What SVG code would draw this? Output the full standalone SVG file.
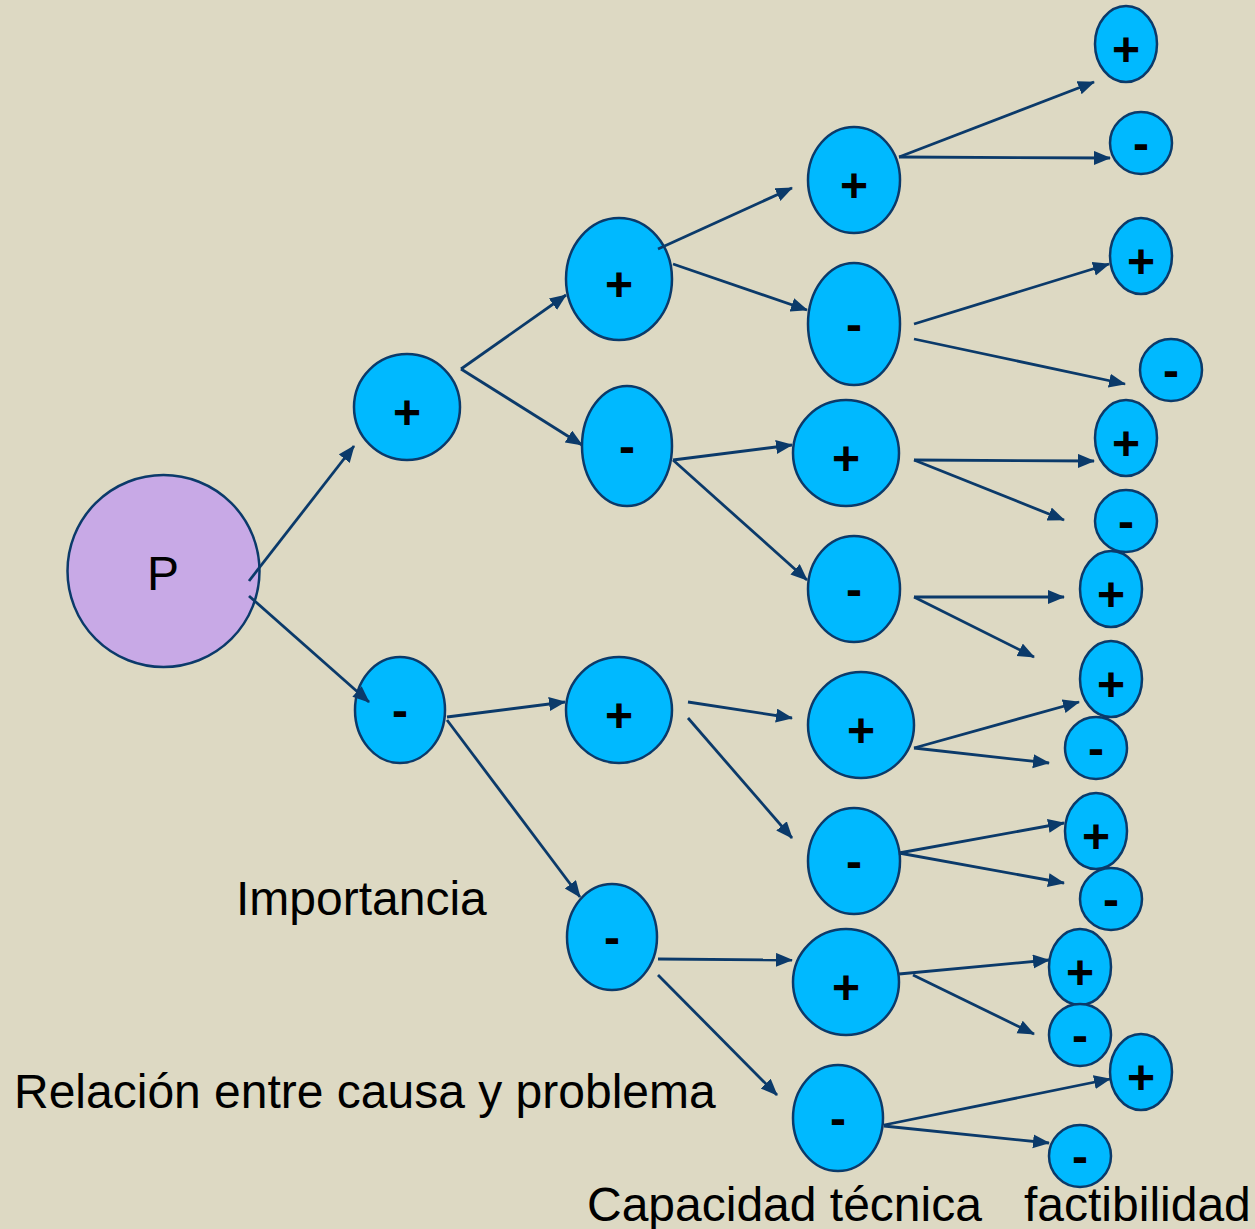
<svg xmlns="http://www.w3.org/2000/svg" width="1255" height="1229" viewBox="0 0 1255 1229">
<defs>
<style>
.n{fill:#00B9FF;stroke:#0B3A6A;stroke-width:2.5}
.p{fill:#C8A9E6;stroke:#0B3A6A;stroke-width:2.5}
.t{font-family:"Liberation Sans",Arial,sans-serif;font-size:48px;font-weight:bold;fill:#000;text-anchor:middle}
.lbl{font-family:"Liberation Sans",Arial,sans-serif;font-size:48px;fill:#000}
.c line{stroke:#0B3A6A;stroke-width:2.8;marker-end:url(#a)}
</style>
<marker id="a" markerUnits="userSpaceOnUse" markerWidth="19" markerHeight="15" refX="16" refY="7" orient="auto">
<path d="M0,0 L17,7 L0,14 z" fill="#0B3A6A"/>
</marker>
</defs>
<rect width="1255" height="1229" fill="#DDD9C3"/>
<g id="P"><circle class="p" cx="163.5" cy="571" r="96"/><text x="163" y="590" style="font-family:'Liberation Sans',Arial,sans-serif;font-size:48px;text-anchor:middle">P</text></g>
<g id="n1p"><ellipse class="n" cx="407" cy="407" rx="53" ry="53"/><text class="t" x="407" y="429">+</text></g>
<g id="n1m"><ellipse class="n" cx="400" cy="710" rx="45" ry="53"/><text class="t" x="400" y="727">-</text></g>
<g id="n2a"><ellipse class="n" cx="619" cy="279" rx="53" ry="61"/><text class="t" x="619" y="301">+</text></g>
<g id="n2b"><ellipse class="n" cx="627" cy="446" rx="45" ry="60"/><text class="t" x="627" y="463">-</text></g>
<g id="n2c"><ellipse class="n" cx="619" cy="710" rx="53" ry="53"/><text class="t" x="619" y="732">+</text></g>
<g id="n2d"><ellipse class="n" cx="612" cy="937" rx="45" ry="53"/><text class="t" x="612" y="954">-</text></g>
<g id="n3a"><ellipse class="n" cx="854" cy="180" rx="46" ry="53"/><text class="t" x="854" y="202">+</text></g>
<g id="n3b"><ellipse class="n" cx="854" cy="324" rx="46" ry="61"/><text class="t" x="854" y="341">-</text></g>
<g id="n3c"><ellipse class="n" cx="846" cy="453" rx="53" ry="53"/><text class="t" x="846" y="475">+</text></g>
<g id="n3d"><ellipse class="n" cx="854" cy="589" rx="46" ry="53"/><text class="t" x="854" y="606">-</text></g>
<g id="n3e"><ellipse class="n" cx="861" cy="725" rx="53" ry="53"/><text class="t" x="861" y="747">+</text></g>
<g id="n3f"><ellipse class="n" cx="854" cy="861" rx="46" ry="53"/><text class="t" x="854" y="878">-</text></g>
<g id="n3g"><ellipse class="n" cx="846" cy="982" rx="53" ry="53"/><text class="t" x="846" y="1004">+</text></g>
<g id="n3h"><ellipse class="n" cx="838" cy="1118" rx="45" ry="53"/><text class="t" x="838" y="1135">-</text></g>
<g id="l1"><ellipse class="n" cx="1126" cy="44" rx="31" ry="38"/><text class="t" x="1126" y="66">+</text></g>
<g id="l2"><ellipse class="n" cx="1141" cy="143" rx="31" ry="31"/><text class="t" x="1141" y="160">-</text></g>
<g id="l3"><ellipse class="n" cx="1141" cy="256" rx="31" ry="38"/><text class="t" x="1141" y="278">+</text></g>
<g id="l4"><ellipse class="n" cx="1171" cy="370" rx="31" ry="31"/><text class="t" x="1171" y="387">-</text></g>
<g id="l5"><ellipse class="n" cx="1126" cy="438" rx="31" ry="38"/><text class="t" x="1126" y="460">+</text></g>
<g id="l6"><ellipse class="n" cx="1126" cy="521" rx="31" ry="31"/><text class="t" x="1126" y="538">-</text></g>
<g id="l7"><ellipse class="n" cx="1111" cy="589" rx="31" ry="38"/><text class="t" x="1111" y="611">+</text></g>
<g id="l8"><ellipse class="n" cx="1111" cy="679" rx="31" ry="38"/><text class="t" x="1111" y="701">+</text></g>
<g id="l9"><ellipse class="n" cx="1096" cy="748" rx="31" ry="31"/><text class="t" x="1096" y="765">-</text></g>
<g id="l10"><ellipse class="n" cx="1096" cy="831" rx="31" ry="38"/><text class="t" x="1096" y="853">+</text></g>
<g id="l11"><ellipse class="n" cx="1111" cy="899" rx="31" ry="31"/><text class="t" x="1111" y="916">-</text></g>
<g id="l12"><ellipse class="n" cx="1080" cy="967" rx="31" ry="38"/><text class="t" x="1080" y="989">+</text></g>
<g id="l13"><ellipse class="n" cx="1080" cy="1035" rx="31" ry="31"/><text class="t" x="1080" y="1052">-</text></g>
<g id="l14"><ellipse class="n" cx="1141" cy="1072" rx="31" ry="38"/><text class="t" x="1141" y="1094">+</text></g>
<g id="l15"><ellipse class="n" cx="1080" cy="1156" rx="31" ry="31"/><text class="t" x="1080" y="1173">-</text></g>
<g id="connectors" class="c">
<line x1="249" y1="581" x2="354" y2="446"/>
<line x1="249" y1="596" x2="369" y2="702"/>
<line x1="461" y1="369" x2="566" y2="295"/>
<line x1="461" y1="369" x2="582" y2="445"/>
<line x1="658" y1="249" x2="792" y2="188"/>
<line x1="673" y1="264" x2="807" y2="310"/>
<line x1="673" y1="460" x2="792" y2="445"/>
<line x1="673" y1="460" x2="807" y2="580"/>
<line x1="447" y1="717" x2="565" y2="702"/>
<line x1="447" y1="720" x2="580" y2="897"/>
<line x1="688" y1="702" x2="792" y2="718"/>
<line x1="688" y1="718" x2="792" y2="838"/>
<line x1="658" y1="959" x2="792" y2="960"/>
<line x1="658" y1="975" x2="777" y2="1095"/>
<line x1="899" y1="157" x2="1094" y2="82"/>
<line x1="899" y1="157" x2="1110" y2="158"/>
<line x1="914" y1="324" x2="1109" y2="264"/>
<line x1="914" y1="339" x2="1125" y2="384"/>
<line x1="914" y1="460" x2="1094" y2="461"/>
<line x1="914" y1="460" x2="1064" y2="520"/>
<line x1="914" y1="597" x2="1064" y2="597"/>
<line x1="914" y1="597" x2="1034" y2="657"/>
<line x1="914" y1="748" x2="1079" y2="702"/>
<line x1="914" y1="748" x2="1049" y2="763"/>
<line x1="899" y1="853" x2="1064" y2="823"/>
<line x1="899" y1="853" x2="1064" y2="883"/>
<line x1="899" y1="974" x2="1049" y2="960"/>
<line x1="913" y1="975" x2="1034" y2="1034"/>
<line x1="884" y1="1125" x2="1110" y2="1079"/>
<line x1="884" y1="1126" x2="1049" y2="1143"/>
</g>
<g id="labels">
<text class="lbl" x="236" y="915">Importancia</text>
<text class="lbl" x="14" y="1108">Relación entre causa y problema</text>
<text class="lbl" x="587" y="1221">Capacidad técnica</text>
<text class="lbl" x="1024" y="1221">factibilidad</text>
</g>
</svg>
